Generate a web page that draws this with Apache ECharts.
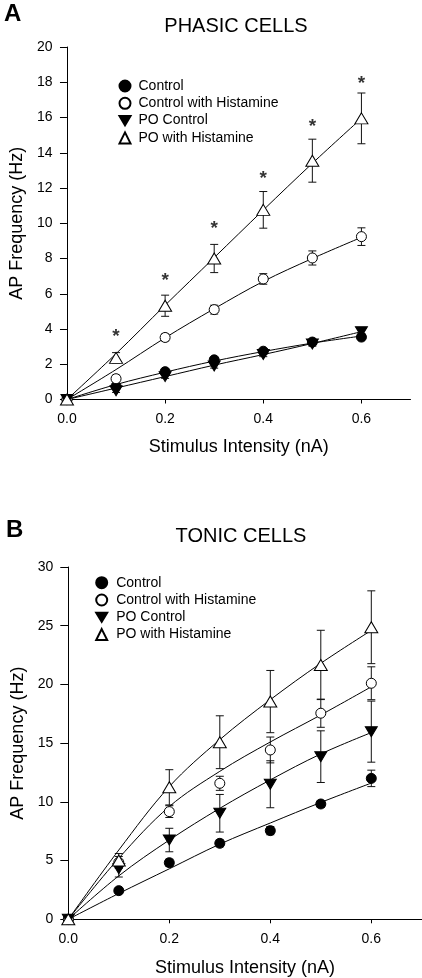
<!DOCTYPE html>
<html><head><meta charset="utf-8">
<script src="https://cdn.jsdelivr.net/npm/echarts@6/dist/echarts.min.js"></script>
<style>html,body{margin:0;padding:0;background:#fff}#c{width:422px;height:978px}</style>
</head><body><div id="c"></div>
<script>
// ---------- data ----------
const stim = [0, 0.1, 0.2, 0.3, 0.4, 0.5, 0.6];
const seriesNames = ['Control', 'Control with Histamine', 'PO Control', 'PO with Histamine'];
const xTicks = [0, 0.2, 0.4, 0.6];

// Panel A: phasic cells (means, SEM, fitted curves)
const aControl = [0, 0.75, 1.58, 2.25, 2.74, 3.26, 3.54];
const aControlHist = [0, 1.18, 3.52, 5.1, 6.84, 8.03, 9.24];
const aPO = [0, 0.5, 1.3, 1.9, 2.55, 3.15, 3.85];
const aPOHist = [0, 2.36, 5.32, 8.0, 10.76, 13.55, 15.95];
const aControlErr = [0, 0.1, 0.12, 0.12, 0.12, 0.12, 0.12];
const aControlHistErr = [0, 0.2, 0.2, 0.25, 0.3, 0.4, 0.5];
const aPOErr = [0, 0.1, 0.1, 0.12, 0.12, 0.12, 0.12];
const aPOHistErr = [0, 0.3, 0.6, 0.8, 1.04, 1.22, 1.44];
const aControlFit = [0, 0.85, 1.55, 2.18, 2.72, 3.2, 3.6];
const aControlHistFit = [0, 1.7, 3.5, 5.15, 6.7, 8.0, 9.2];
const aPOFit = [0, 0.65, 1.3, 1.95, 2.55, 3.18, 3.85];
const aPOHistFit = [0, 2.6, 5.35, 8.05, 10.75, 13.4, 15.95];
const aSigX = [0.1, 0.2, 0.3, 0.4, 0.5, 0.6];
const aSigY = [3.77, 6.95, 9.93, 12.77, 15.7, 18.16];

// Panel B: tonic cells
const bControl = [0, 2.44, 4.82, 6.47, 7.55, 9.82, 12.0];
const bControlHist = [0, 4.85, 9.17, 11.58, 14.42, 17.55, 20.1];
const bPO = [0, 4.3, 6.75, 9.03, 11.5, 13.85, 15.98];
const bPOHist = [0, 5.0, 11.24, 15.08, 18.54, 21.66, 24.87];
const bControlErr = [0, 0.2, 0.3, 0.3, 0.35, 0.3, 0.7];
const bControlHistErr = [0, 0.5, 0.5, 0.6, 1.1, 1.2, 1.4];
const bPOErr = [0, 0.7, 1.0, 1.6, 2.0, 2.2, 2.6];
const bPOHistErr = [0, 0.6, 1.5, 2.25, 2.65, 2.95, 3.1];
const bControlFit = [0, 2.2, 4.3, 6.4, 8.2, 9.95, 11.6];
const bControlHistFit = [0, 5.2, 9.6, 12.6, 15.1, 17.4, 19.8];
const bPOFit = [0, 3.7, 6.75, 9.45, 11.87, 14.08, 15.9];
const bPOHistFit = [0, 5.9, 11.3, 15.3, 18.7, 21.8, 24.6];

// ---------- styling ----------
const FONT = "'Liberation Sans', Arial, sans-serif";
const DOWN = 'path://M0,0L12,0L6,10Z';
const markStyles = [
  { symbol: 'circle', size: 10, fill: '#000' },
  { symbol: 'circle', size: 10, fill: '#fff' },
  { symbol: DOWN, size: [12, 10], fill: '#000' },
  { symbol: 'triangle', size: [13, 11], fill: '#fff' }
];

function errRender(params, api) {
  const x = api.value(0), lo = api.value(1), hi = api.value(2);
  const p1 = api.coord([x, lo]), p2 = api.coord([x, hi]);
  const hw = 4;
  const st = { stroke: '#111', lineWidth: 1 };
  return { type: 'group', children: [
    { type: 'line', shape: { x1: p1[0], y1: p1[1], x2: p2[0], y2: p2[1] }, style: st },
    { type: 'line', shape: { x1: p1[0] - hw, y1: p1[1], x2: p1[0] + hw, y2: p1[1] }, style: st },
    { type: 'line', shape: { x1: p2[0] - hw, y1: p2[1], x2: p2[0] + hw, y2: p2[1] }, style: st }
  ]};
}

function panelSeries(gi, vals, errs, fits) {
  const out = [];
  vals.forEach((v, k) => {
    out.push({
      type: 'custom', xAxisIndex: gi, yAxisIndex: gi, z: 1, silent: true,
      renderItem: errRender,
      encode: { x: 0, y: [1, 2] },
      data: stim.map((x, i) => [x, v[i] - errs[k][i], v[i] + errs[k][i]])
    });
  });
  fits.forEach((f) => {
    out.push({
      type: 'line', xAxisIndex: gi, yAxisIndex: gi, z: 2, smooth: 0.35,
      showSymbol: false, silent: true,
      lineStyle: { color: '#000', width: 1 },
      data: stim.map((x, i) => [x, f[i]])
    });
  });
  vals.forEach((v, k) => {
    const s = markStyles[k];
    out.push({
      name: seriesNames[k], type: 'scatter', xAxisIndex: gi, yAxisIndex: gi, z: 3,
      symbol: s.symbol, symbolSize: s.size,
      itemStyle: { color: s.fill, borderColor: '#000', borderWidth: 1, opacity: 1 },
      data: stim.map((x, i) => [x, v[i]])
    });
  });
  return out;
}

function xAxisCfg(gi, gap) {
  return {
    gridIndex: gi, type: 'value', min: 0, max: 0.7, interval: 0.1,
    name: 'Stimulus Intensity (nA)', nameLocation: 'middle', nameGap: gap,
    nameTextStyle: { fontSize: 18, color: '#000', fontFamily: FONT },
    axisLine: { lineStyle: { color: '#000', width: 1 } },
    axisTick: { show: true, length: 4, inside: false, customValues: xTicks, lineStyle: { color: '#000' } },
    axisLabel: { customValues: xTicks, formatter: v => v.toFixed(1), margin: 13, fontSize: 14, color: '#000', fontFamily: FONT },
    splitLine: { show: false }
  };
}
function yAxisCfg(gi, max, interval, gap, tickLen, margin) {
  return {
    gridIndex: gi, type: 'value', min: 0, max: max, interval: interval,
    name: 'AP Frequency (Hz)', nameLocation: 'middle', nameGap: gap,
    nameTextStyle: { fontSize: 18, color: '#000', fontFamily: FONT },
    axisLine: { show: true, lineStyle: { color: '#000', width: 1 } },
    axisTick: { show: true, length: tickLen, lineStyle: { color: '#000' } },
    axisLabel: { margin: margin, fontSize: 14, color: '#000', fontFamily: FONT },
    splitLine: { show: false }
  };
}

const series = [].concat(
  panelSeries(0, [aControl, aControlHist, aPO, aPOHist],
    [aControlErr, aControlHistErr, aPOErr, aPOHistErr],
    [aControlFit, aControlHistFit, aPOFit, aPOHistFit]),
  panelSeries(1, [bControl, bControlHist, bPO, bPOHist],
    [bControlErr, bControlHistErr, bPOErr, bPOHistErr],
    [bControlFit, bControlHistFit, bPOFit, bPOHistFit]),
  [{
    type: 'scatter', xAxisIndex: 0, yAxisIndex: 0, z: 4, silent: true,
    symbolSize: 1, itemStyle: { color: 'rgba(0,0,0,0)' },
    label: { show: true, position: 'inside', formatter: '*', fontSize: 19, fontWeight: 'bold', color: '#000', fontFamily: FONT, offset: [0, 4] },
    data: aSigX.map((x, i) => [x, aSigY[i]])
  }]
);

const legendBase = {
  orient: 'vertical', padding: 0, itemWidth: 11, itemHeight: 11, itemGap: 3.3,
  data: seriesNames, selectedMode: false,
  textStyle: { fontSize: 14, color: '#000', fontFamily: FONT, lineHeight: 14 }
};

const option = {
  animation: false,
  backgroundColor: '#fff',
  grid: [
    { left: 58, top: 47, width: 352.5, height: 352.5 },
    { left: 68.3, top: 567, width: 353.5, height: 352.3 }
  ],
  xAxis: [xAxisCfg(0, 38.5), xAxisCfg(1, 39.7)],
  yAxis: [yAxisCfg(0, 20, 2, 35, 7, 14.5), yAxisCfg(1, 30, 5, 40, 8, 15)],
  legend: [
    Object.assign({}, legendBase, { left: 118.5, top: 79, textStyle: Object.assign({}, legendBase.textStyle, { padding: [0, 0, 0, 3] }) }),
    Object.assign({}, legendBase, { left: 95.2, top: 575.7, textStyle: Object.assign({}, legendBase.textStyle, { padding: [0, 0, 0, 4] }) })
  ],
  graphic: [
    { type: 'text', x: 4, y: 2, style: { text: 'A', font: "bold 24px " + FONT, fill: '#000' } },
    { type: 'text', x: 236, y: 16, style: { text: 'PHASIC CELLS', font: "20px " + FONT, fill: '#000', textAlign: 'center' } },
    { type: 'text', x: 6, y: 518, style: { text: 'B', font: "bold 24px " + FONT, fill: '#000' } },
    { type: 'text', x: 241, y: 526, style: { text: 'TONIC CELLS', font: "20px " + FONT, fill: '#000', textAlign: 'center' } }
  ],
  series: series
};

const chart = echarts.init(document.getElementById('c'), null, { renderer: 'canvas' });
chart.setOption(option);
</script>
</body></html>
